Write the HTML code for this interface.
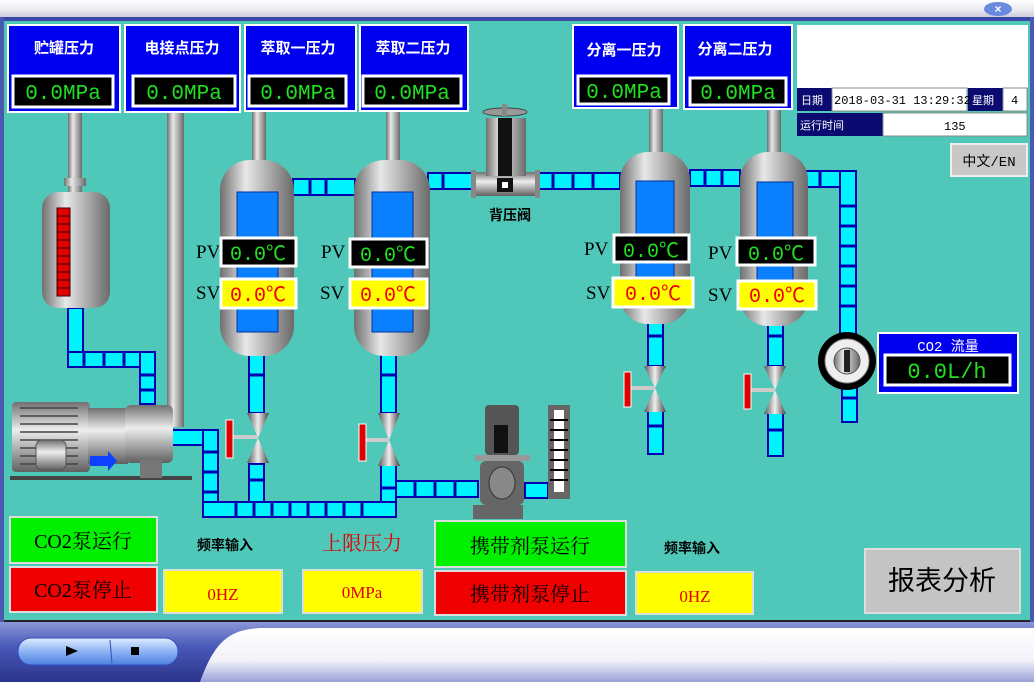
<!DOCTYPE html>
<html><head><meta charset="utf-8"><style>
html,body{margin:0;padding:0;width:1034px;height:682px;overflow:hidden;background:#4fc7b9}
svg{display:block}
text{font-family:"Liberation Serif","Noto Serif CJK SC","Noto Sans CJK SC",serif}
.cj,.cj text{font-family:"Liberation Sans","Noto Sans CJK SC",sans-serif}
.mono,.mono text{font-family:"Liberation Mono","Noto Sans CJK SC",monospace}
</style></head><body>
<svg width="1034" height="682" viewBox="0 0 1034 682" xmlns="http://www.w3.org/2000/svg">
<defs>
<linearGradient id="met" x1="0" x2="1" y1="0" y2="0"><stop offset="0" stop-color="#707070"/><stop offset="0.35" stop-color="#e8e8e8"/><stop offset="1" stop-color="#6a6a6a"/></linearGradient>
<linearGradient id="metv" x1="0" x2="0" y1="0" y2="1"><stop offset="0" stop-color="#707070"/><stop offset="0.4" stop-color="#eeeeee"/><stop offset="1" stop-color="#606060"/></linearGradient>
<linearGradient id="top" x1="0" x2="0" y1="0" y2="1"><stop offset="0" stop-color="#ffffff"/><stop offset="0.6" stop-color="#e6e6ee"/><stop offset="1" stop-color="#c8c8d8"/></linearGradient>
<linearGradient id="bot" x1="0" x2="0" y1="0" y2="1"><stop offset="0" stop-color="#8a96d8"/><stop offset="0.4" stop-color="#4a5ab8"/><stop offset="1" stop-color="#2a348a"/></linearGradient>
<linearGradient id="botw" x1="0" x2="0" y1="0" y2="1"><stop offset="0" stop-color="#ffffff"/><stop offset="0.6" stop-color="#f2f2fa"/><stop offset="1" stop-color="#9aa0d8"/></linearGradient>
<linearGradient id="pill" x1="0" x2="0" y1="0" y2="1"><stop offset="0" stop-color="#e0ecff"/><stop offset="0.5" stop-color="#8cb4f4"/><stop offset="1" stop-color="#4f7fe0"/></linearGradient>
<linearGradient id="cone" x1="0" x2="1"><stop offset="0" stop-color="#555"/><stop offset="0.5" stop-color="#eee"/><stop offset="1" stop-color="#444"/></linearGradient>
</defs>

<rect x="0" y="0" width="1034" height="18" fill="url(#top)"/>
<rect x="0" y="17" width="1034" height="4" fill="#3a48a8"/>
<rect x="0" y="17" width="4" height="610" fill="#4a58b0"/>
<rect x="1030" y="17" width="4" height="610" fill="#4a58b0"/>
<ellipse cx="998" cy="9" rx="14" ry="7" fill="#6a8ae0"/>
<text x="998" y="13" font-size="12" text-anchor="middle" fill="#fff" font-weight="bold" class="cj">×</text>

<rect x="68" y="112" width="14" height="85" fill="url(#met)"/>
<rect x="167" y="112" width="17" height="315" fill="url(#met)"/>
<rect x="252" y="112" width="14" height="50" fill="url(#met)"/>
<rect x="386" y="112" width="14" height="50" fill="url(#met)"/>
<rect x="649" y="108" width="14" height="48" fill="url(#met)"/>
<rect x="767" y="108" width="14" height="48" fill="url(#met)"/>

<g fill="#00f4ff" stroke="#0000b0" stroke-width="2">
<rect x="293" y="179" width="62" height="16"/>
<rect x="428" y="173" width="45" height="16"/>
<rect x="536" y="173" width="84" height="16"/>
<rect x="690" y="170" width="50" height="16"/>
<rect x="806" y="171" width="50" height="16"/>
<rect x="840" y="171" width="16" height="165"/>
<rect x="842" y="386" width="15" height="36"/>
<rect x="648" y="322" width="15" height="44"/>
<rect x="648" y="410" width="15" height="44"/>
<rect x="768" y="322" width="15" height="44"/>
<rect x="768" y="412" width="15" height="44"/>
<rect x="68" y="308" width="15" height="58"/>
<rect x="68" y="352" width="86" height="15"/>
<rect x="140" y="352" width="15" height="52"/>
<rect x="249" y="355" width="15" height="58"/>
<rect x="249" y="464" width="15" height="52"/>
<rect x="381" y="355" width="15" height="58"/>
<rect x="381" y="464" width="15" height="52"/>
<rect x="172" y="430" width="44" height="15"/>
<rect x="203" y="430" width="15" height="87"/>
<rect x="203" y="502" width="193" height="15"/>
<rect x="396" y="481" width="82" height="16"/>
<rect x="525" y="483" width="23" height="15"/>
</g>
<g stroke="#0000b0" stroke-width="3">
<line x1="310" y1="179" x2="310" y2="195"/><line x1="326" y1="179" x2="326" y2="195"/>
<line x1="443" y1="173" x2="443" y2="189"/>
<line x1="553" y1="173" x2="553" y2="189"/><line x1="573" y1="173" x2="573" y2="189"/><line x1="593" y1="173" x2="593" y2="189"/>
<line x1="705" y1="170" x2="705" y2="186"/><line x1="722" y1="170" x2="722" y2="186"/>
<line x1="820" y1="171" x2="820" y2="187"/>
<line x1="840" y1="206" x2="856" y2="206"/><line x1="840" y1="226" x2="856" y2="226"/><line x1="840" y1="246" x2="856" y2="246"/><line x1="840" y1="266" x2="856" y2="266"/><line x1="840" y1="286" x2="856" y2="286"/><line x1="840" y1="306" x2="856" y2="306"/>
<line x1="842" y1="398" x2="857" y2="398"/>
<line x1="648" y1="336" x2="663" y2="336"/><line x1="648" y1="426" x2="663" y2="426"/>
<line x1="768" y1="336" x2="783" y2="336"/><line x1="768" y1="430" x2="783" y2="430"/>
<line x1="84" y1="352" x2="84" y2="367"/><line x1="104" y1="352" x2="104" y2="367"/><line x1="124" y1="352" x2="124" y2="367"/>
<line x1="140" y1="375" x2="155" y2="375"/><line x1="140" y1="390" x2="155" y2="390"/>
<line x1="249" y1="375" x2="264" y2="375"/><line x1="249" y1="480" x2="264" y2="480"/>
<line x1="381" y1="375" x2="396" y2="375"/><line x1="381" y1="488" x2="396" y2="488"/>
<line x1="203" y1="452" x2="218" y2="452"/><line x1="203" y1="472" x2="218" y2="472"/><line x1="203" y1="492" x2="218" y2="492"/>
<line x1="236" y1="502" x2="236" y2="517"/><line x1="254" y1="502" x2="254" y2="517"/><line x1="272" y1="502" x2="272" y2="517"/><line x1="290" y1="502" x2="290" y2="517"/><line x1="308" y1="502" x2="308" y2="517"/><line x1="326" y1="502" x2="326" y2="517"/><line x1="344" y1="502" x2="344" y2="517"/><line x1="362" y1="502" x2="362" y2="517"/>
<line x1="415" y1="481" x2="415" y2="497"/><line x1="435" y1="481" x2="435" y2="497"/><line x1="455" y1="481" x2="455" y2="497"/>
</g>

<rect x="64" y="178" width="22" height="8" fill="url(#met)"/>
<rect x="42" y="192" width="68" height="116" rx="16" fill="url(#met)"/>
<rect x="57" y="208" width="13" height="88" fill="#e00000" stroke="#400" stroke-width="1"/>
<g stroke="#300" stroke-width="1"><line x1="57" y1="216" x2="70" y2="216"/><line x1="57" y1="224" x2="70" y2="224"/><line x1="57" y1="232" x2="70" y2="232"/><line x1="57" y1="240" x2="70" y2="240"/><line x1="57" y1="248" x2="70" y2="248"/><line x1="57" y1="256" x2="70" y2="256"/><line x1="57" y1="264" x2="70" y2="264"/><line x1="57" y1="272" x2="70" y2="272"/><line x1="57" y1="280" x2="70" y2="280"/><line x1="57" y1="288" x2="70" y2="288"/></g>

<g>
<rect x="220" y="160" width="74" height="196" rx="30" fill="url(#met)"/>
<rect x="237" y="192" width="41" height="140" fill="#0a80ff" stroke="#0030a0"/>
<rect x="354" y="160" width="76" height="196" rx="30" fill="url(#met)"/>
<rect x="372" y="192" width="41" height="140" fill="#0a80ff" stroke="#0030a0"/>
<rect x="620" y="152" width="70" height="172" rx="28" fill="url(#met)"/>
<rect x="636" y="181" width="38" height="120" fill="#0a80ff" stroke="#0030a0"/>
<rect x="740" y="152" width="68" height="174" rx="28" fill="url(#met)"/>
<rect x="757" y="182" width="36" height="120" fill="#0a80ff" stroke="#0030a0"/>
</g>

<g font-size="19" fill="#000">
<text x="196" y="258">PV</text><text x="196" y="299">SV</text>
<text x="321" y="258">PV</text><text x="320" y="299">SV</text>
<text x="584" y="255">PV</text><text x="586" y="299">SV</text>
<text x="708" y="259">PV</text><text x="708" y="301">SV</text>
</g>
<g stroke="#fff" stroke-width="3">
<rect x="221" y="238" width="75" height="28" fill="#000"/>
<rect x="221" y="279" width="75" height="29" fill="#ff0"/>
<rect x="350" y="239" width="77" height="28" fill="#000"/>
<rect x="350" y="279" width="77" height="29" fill="#ff0"/>
<rect x="614" y="235" width="75" height="27" fill="#000"/>
<rect x="613" y="278" width="80" height="29" fill="#ff0"/>
<rect x="737" y="238" width="78" height="27" fill="#000"/>
<rect x="738" y="281" width="78" height="28" fill="#ff0"/>
</g>
<g font-size="20" class="mono">
<text x="258" y="260" fill="#20e020" text-anchor="middle">0.0℃</text>
<text x="258" y="301" fill="#f00000" text-anchor="middle">0.0℃</text>
<text x="388" y="261" fill="#20e020" text-anchor="middle">0.0℃</text>
<text x="388" y="301" fill="#f00000" text-anchor="middle">0.0℃</text>
<text x="651" y="257" fill="#20e020" text-anchor="middle">0.0℃</text>
<text x="653" y="300" fill="#f00000" text-anchor="middle">0.0℃</text>
<text x="776" y="260" fill="#20e020" text-anchor="middle">0.0℃</text>
<text x="777" y="302" fill="#f00000" text-anchor="middle">0.0℃</text>
</g>

<g>
<polygon points="247,413 269,413 258,438" fill="url(#cone)"/><polygon points="247,463 269,463 258,438" fill="url(#cone)"/>
<rect x="232" y="435" width="26" height="4" fill="#ccc"/><rect x="226" y="420" width="7" height="38" fill="#e00000" stroke="#fff"/>
<polygon points="378,413 400,413 389,440" fill="url(#cone)"/><polygon points="378,466 400,466 389,440" fill="url(#cone)"/>
<rect x="365" y="438" width="24" height="4" fill="#ccc"/><rect x="359" y="424" width="7" height="37" fill="#e00000" stroke="#fff"/>
<polygon points="644,366 666,366 655,388" fill="url(#cone)"/><polygon points="644,412 666,412 655,388" fill="url(#cone)"/>
<rect x="630" y="386" width="25" height="4" fill="#ccc"/><rect x="624" y="372" width="7" height="35" fill="#e00000" stroke="#fff"/>
<polygon points="764,366 786,366 775,390" fill="url(#cone)"/><polygon points="764,414 786,414 775,390" fill="url(#cone)"/>
<rect x="750" y="388" width="25" height="4" fill="#ccc"/><rect x="744" y="374" width="7" height="35" fill="#e00000" stroke="#fff"/>
</g>

<rect x="474" y="172" width="64" height="24" rx="4" fill="url(#metv)"/>
<rect x="471" y="170" width="5" height="28" fill="#888"/><rect x="535" y="170" width="5" height="28" fill="#888"/>
<rect x="486" y="118" width="40" height="58" fill="url(#met)"/>
<rect x="498" y="118" width="14" height="58" fill="#111"/>
<ellipse cx="505" cy="112" rx="22" ry="4" fill="#999" stroke="#444"/>
<rect x="502" y="104" width="5" height="12" fill="#888"/>
<rect x="497" y="178" width="16" height="14" fill="#111"/><rect x="502" y="182" width="6" height="6" fill="#fff"/>
<text x="510" y="220" font-size="14" text-anchor="middle" class="cj" font-weight="bold">背压阀</text>

<circle cx="847" cy="361" r="29" fill="#000"/>
<circle cx="847" cy="361" r="22" fill="#eee" stroke="#888"/>
<circle cx="847" cy="361" r="13" fill="url(#met)" stroke="#555"/>
<rect x="844" y="350" width="6" height="22" fill="#222"/>
<rect x="878" y="333" width="140" height="60" fill="#0000ee" stroke="#fff" stroke-width="2"/>
<text x="948" y="351" font-size="14" fill="#fff" text-anchor="middle" class="mono">CO2 流量</text>
<rect x="885" y="355" width="125" height="30" fill="#000" stroke="#fff" stroke-width="3"/>
<text x="947" y="378" font-size="22" fill="#20e020" text-anchor="middle" class="mono">0.0L/h</text>

<rect x="10" y="476" width="182" height="4" fill="#444"/>
<rect x="12" y="402" width="78" height="70" rx="4" fill="url(#metv)"/>
<g stroke="#444" stroke-width="1.5"><line x1="20" y1="408" x2="78" y2="408"/><line x1="20" y1="416" x2="78" y2="416"/><line x1="20" y1="424" x2="78" y2="424"/><line x1="20" y1="432" x2="78" y2="432"/><line x1="20" y1="440" x2="78" y2="440"/><line x1="20" y1="448" x2="78" y2="448"/><line x1="20" y1="456" x2="78" y2="456"/><line x1="20" y1="464" x2="78" y2="464"/></g>
<rect x="36" y="440" width="30" height="30" rx="6" fill="url(#metv)" stroke="#555"/>
<rect x="88" y="408" width="40" height="56" fill="url(#metv)"/>
<rect x="125" y="405" width="48" height="58" rx="6" fill="url(#metv)"/>
<rect x="140" y="460" width="22" height="18" fill="#777"/>
<polygon points="90,456 108,456 108,451 117,461 108,471 108,466 90,466" fill="#1040ff"/>

<rect x="485" y="405" width="34" height="50" rx="4" fill="#555"/>
<rect x="494" y="425" width="14" height="28" fill="#111"/>
<rect x="475" y="455" width="55" height="6" fill="#999"/>
<rect x="480" y="461" width="44" height="44" rx="6" fill="#666"/>
<ellipse cx="502" cy="483" rx="13" ry="16" fill="#888" stroke="#333"/>
<rect x="473" y="505" width="50" height="14" fill="#666"/>
<rect x="548" y="405" width="22" height="94" fill="#666"/>
<rect x="554" y="410" width="10" height="82" fill="#fff"/>
<g stroke="#000" stroke-width="2"><line x1="550" y1="420" x2="568" y2="420"/><line x1="550" y1="430" x2="568" y2="430"/><line x1="550" y1="440" x2="568" y2="440"/><line x1="550" y1="450" x2="568" y2="450"/><line x1="550" y1="460" x2="568" y2="460"/><line x1="550" y1="470" x2="568" y2="470"/><line x1="550" y1="480" x2="568" y2="480"/></g>

<g fill="#0000f0" stroke="#fff" stroke-width="2">
<rect x="8" y="25" width="112" height="87"/>
<rect x="125" y="25" width="115" height="87"/>
<rect x="245" y="25" width="111" height="86"/>
<rect x="360" y="25" width="108" height="86"/>
<rect x="573" y="25" width="105" height="83"/>
<rect x="684" y="25" width="108" height="84"/>
</g>
<g fill="#000" stroke="#fff" stroke-width="3">
<rect x="13" y="76" width="100" height="31"/>
<rect x="133" y="76" width="102" height="30"/>
<rect x="249" y="76" width="97" height="30"/>
<rect x="363" y="76" width="98" height="30"/>
<rect x="578" y="76" width="91" height="28"/>
<rect x="690" y="78" width="96" height="27"/>
</g>
<g font-size="15" fill="#fff" text-anchor="middle" class="cj" font-weight="bold">
<text x="64" y="53">贮罐压力</text><text x="182" y="53">电接点压力</text><text x="298" y="53">萃取一压力</text><text x="413" y="53">萃取二压力</text>
<text x="624" y="55">分离一压力</text><text x="735" y="54">分离二压力</text>
</g>
<g font-size="21" fill="#20e020" text-anchor="middle" class="mono">
<text x="63" y="99">0.0MPa</text><text x="184" y="99">0.0MPa</text><text x="298" y="99">0.0MPa</text><text x="412" y="99">0.0MPa</text>
<text x="624" y="98">0.0MPa</text><text x="738" y="99">0.0MPa</text>
</g>

<rect x="797" y="25" width="231" height="63" fill="#fff"/>
<rect x="797" y="88" width="35" height="23" fill="#0a0a70"/>
<rect x="832" y="88" width="135" height="23" fill="#fff" stroke="#888"/>
<rect x="968" y="88" width="35" height="23" fill="#0a0a70"/>
<rect x="1003" y="88" width="24" height="23" fill="#fff" stroke="#888"/>
<rect x="797" y="113" width="86" height="23" fill="#0a0a70"/>
<rect x="883" y="113" width="144" height="23" fill="#fff" stroke="#888"/>
<g font-size="11" fill="#fff" class="cj"><text x="801" y="104">日期</text><text x="972" y="104">星期</text><text x="800" y="129">运行时间</text></g>
<g font-size="12" fill="#000" class="mono"><text x="834" y="104">2018-03-31 13:29:32</text><text x="1011" y="104">4</text><text x="944" y="130">135</text></g>
<rect x="951" y="144" width="76" height="32" fill="#c8c8c8" stroke="#eee" stroke-width="2"/>
<text x="989" y="166" font-size="14" text-anchor="middle" class="mono">中文/EN</text>

<g stroke="#ddd" stroke-width="2">
<rect x="10" y="517" width="147" height="46" fill="#00f000"/>
<rect x="10" y="567" width="147" height="45" fill="#f00000"/>
<rect x="164" y="570" width="118" height="43" fill="#ff0"/>
<rect x="303" y="570" width="119" height="43" fill="#ff0"/>
<rect x="435" y="521" width="191" height="46" fill="#00f000"/>
<rect x="435" y="571" width="191" height="44" fill="#f00000"/>
<rect x="636" y="572" width="117" height="42" fill="#ff0"/>
<rect x="865" y="549" width="155" height="64" fill="#c4c4c4"/>
</g>
<g font-size="20" fill="#000" text-anchor="middle">
<text x="83" y="548">CO2泵运行</text><text x="83" y="597">CO2泵停止</text>
<text x="530" y="553">携带剂泵运行</text><text x="530" y="601">携带剂泵停止</text>
</g>
<text x="362" y="550" font-size="20" fill="#e00000" text-anchor="middle">上限压力</text>
<g font-size="14" fill="#000" class="cj" font-weight="bold" text-anchor="middle"><text x="225" y="550">频率输入</text><text x="692" y="553">频率输入</text></g>
<g font-size="17" fill="#e00000" text-anchor="middle"><text x="223" y="600">0HZ</text><text x="362" y="598">0MPa</text><text x="695" y="602">0HZ</text></g>
<text x="942" y="590" font-size="27" text-anchor="middle" class="cj">报表分析</text>

<rect x="0" y="622" width="1034" height="60" fill="url(#bot)"/>
<rect x="4" y="620" width="1026" height="2" fill="#222"/>
<path d="M200,682 C215,640 230,630 260,628 L1034,628 L1034,682 Z" fill="url(#botw)"/>
<rect x="18" y="638" width="160" height="27" rx="13" fill="url(#pill)" stroke="#3050c0"/>
<line x1="110" y1="640" x2="112" y2="663" stroke="#3050c0"/>
<polygon points="66,646 66,656 78,651" fill="#000"/>
<rect x="131" y="647" width="8" height="8" fill="#000"/>
</svg>
</body></html>
